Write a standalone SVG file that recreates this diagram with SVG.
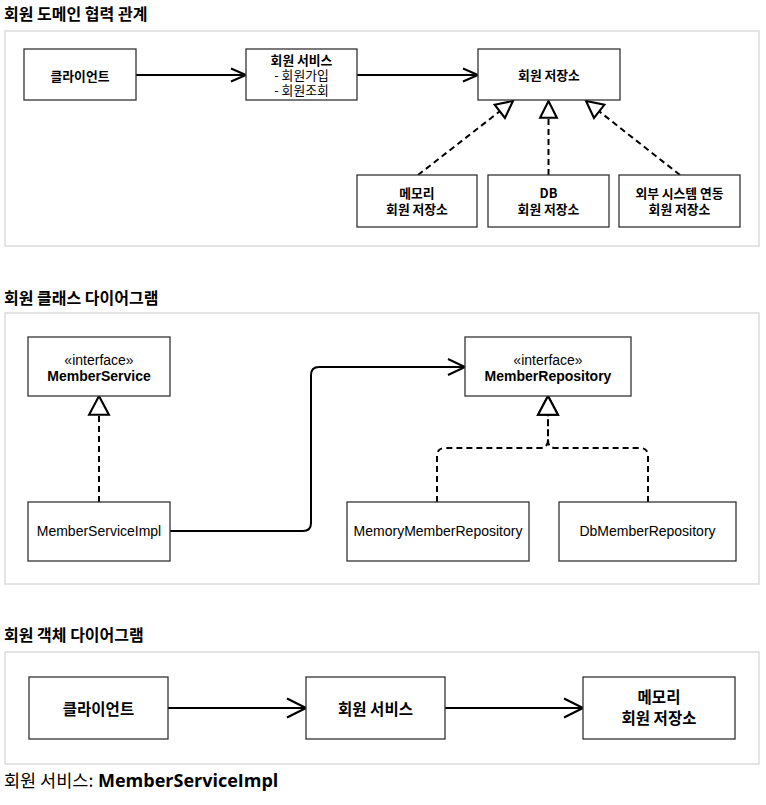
<svg xmlns="http://www.w3.org/2000/svg" width="766" height="805" viewBox="0 0 766 805">
<style>
.frame{fill:#fff;stroke:#dcdcdc;stroke-width:1.5}
.box{fill:#fff;stroke:#333;stroke-width:1.3}
.h{font-family:"Noto Sans CJK KR",sans-serif;font-weight:bold;font-size:16px;fill:#000}
.kb{font-family:"Noto Sans CJK KR",sans-serif;font-weight:bold;font-size:12.8px;fill:#000;text-anchor:middle}
.kn{font-family:"Noto Sans CJK KR",sans-serif;font-weight:normal;font-size:12.8px;fill:#000;text-anchor:middle}
.ln{font-family:"Liberation Sans",Arial,sans-serif;font-size:14px;fill:#000;text-anchor:middle}
.lb{font-family:"Liberation Sans",Arial,sans-serif;font-size:14px;font-weight:bold;fill:#000;text-anchor:middle}
.kL{font-family:"Noto Sans CJK KR",sans-serif;font-weight:bold;font-size:15.5px;fill:#000;text-anchor:middle}
.solid{fill:none;stroke:#000;stroke-width:2}
.dash{fill:none;stroke:#000;stroke-width:2;stroke-dasharray:6 4}
</style>
<defs>
<marker id="arrS" markerUnits="userSpaceOnUse" markerWidth="20" markerHeight="20" viewBox="-2 -2 20 18" refX="15" refY="6.5" orient="auto">
<path d="M0,0 L15,6.5 L0,13" fill="none" stroke="#000" stroke-width="2"/>
</marker>
<marker id="arrM" markerUnits="userSpaceOnUse" markerWidth="22" markerHeight="22" viewBox="-2 -2 22 20" refX="17" refY="8" orient="auto">
<path d="M0,0 L17,8 L0,16" fill="none" stroke="#000" stroke-width="2"/>
</marker>
<marker id="arrL" markerUnits="userSpaceOnUse" markerWidth="24" markerHeight="24" viewBox="-2 -2 24 23" refX="19" refY="9.5" orient="auto">
<path d="M0,0 L19,9.5 L0,19" fill="none" stroke="#000" stroke-width="2.2"/>
</marker>
<marker id="triS" markerUnits="userSpaceOnUse" markerWidth="22" markerHeight="22" viewBox="-2 -2 21 20" refX="16" refY="8" orient="auto">
<path d="M0,0 L16,8 L0,16 Z" fill="#fff" stroke="#000" stroke-width="2" stroke-dasharray="none"/>
</marker>
<marker id="triM" markerUnits="userSpaceOnUse" markerWidth="24" markerHeight="24" viewBox="-2 -2 23 23" refX="18" refY="9.5" orient="auto">
<path d="M0,0 L18,9.5 L0,19 Z" fill="#fff" stroke="#000" stroke-width="2" stroke-dasharray="none"/>
</marker>
</defs>
<rect width="766" height="805" fill="#fff"/>

<!-- Section 1 -->
<text class="h" x="4" y="20">회원 도메인 협력 관계</text>
<rect class="frame" x="5" y="31" width="754" height="215"/>

<g id="connectors1">
<line class="solid" x1="136" y1="75" x2="246" y2="75" marker-end="url(#arrS)"/>
<line class="solid" x1="357" y1="75" x2="478" y2="75" marker-end="url(#arrS)"/>
<line class="dash" x1="418" y1="175" x2="513" y2="101" marker-end="url(#triS)"/>
<line class="dash" x1="548.5" y1="175" x2="548.5" y2="101" marker-end="url(#triS)"/>
<line class="dash" x1="680" y1="175" x2="586" y2="101" marker-end="url(#triS)"/>
</g>

<g id="client1">
<rect class="box" x="24" y="49" width="112" height="51"/>
<text class="kb" x="80" y="80.5">클라이언트</text>
</g>
<g id="service1">
<rect class="box" x="246" y="49" width="111" height="51"/>
<text class="kb" x="301.5" y="64.5">회원 서비스</text>
<text class="kn" x="301.5" y="80">- 회원가입</text>
<text class="kn" x="301.5" y="95">- 회원조회</text>
</g>
<g id="repo1">
<rect class="box" x="478" y="49" width="142" height="51"/>
<text class="kb" x="549" y="80">회원 저장소</text>
</g>
<g id="memrepo1">
<rect class="box" x="357" y="175" width="120" height="52"/>
<text class="kb" x="417" y="198">메모리</text>
<text class="kb" x="417" y="213.5">회원 저장소</text>
</g>
<g id="dbrepo1">
<rect class="box" x="488" y="175" width="121" height="52"/>
<text class="kb" x="548.5" y="198">DB</text>
<text class="kb" x="548.5" y="213.5">회원 저장소</text>
</g>
<g id="extrepo1">
<rect class="box" x="619" y="175" width="121" height="52"/>
<text class="kb" x="679.5" y="198">외부 시스템 연동</text>
<text class="kb" x="679.5" y="213.5">회원 저장소</text>
</g>

<!-- Section 2 -->
<text class="h" x="4" y="304">회원 클래스 다이어그램</text>
<rect class="frame" x="5" y="313" width="754" height="271"/>

<g id="connectors2">
<line class="dash" x1="99" y1="502" x2="99" y2="396" marker-end="url(#triM)"/>
<path class="solid" d="M170,531 L303,531 Q311,531 311,523 L311,375 Q311,367 319,367 L465,367" marker-end="url(#arrM)"/>
<path class="dash" d="M437,502 L437,456 Q437,448 445,448 L540,448 Q548,448 548,440 L548,396" marker-end="url(#triM)"/>
<path class="dash" d="M648,502 L648,456 Q648,448 640,448 L556,448 Q548,448 548,440 L548,396" marker-end="url(#triM)"/>
</g>

<g id="MemberService">
<rect class="box" x="28" y="337" width="142" height="59"/>
<text class="ln" x="99" y="364.5">«interface»</text>
<text class="lb" x="99" y="380.5">MemberService</text>
</g>
<g id="MemberServiceImpl">
<rect class="box" x="28" y="502" width="142" height="59"/>
<text class="ln" x="99" y="536">MemberServiceImpl</text>
</g>
<g id="MemberRepository">
<rect class="box" x="465" y="337" width="166" height="59"/>
<text class="ln" x="548" y="364.5">«interface»</text>
<text class="lb" x="548" y="380.5">MemberRepository</text>
</g>
<g id="MemoryMemberRepository">
<rect class="box" x="347" y="502" width="182" height="59"/>
<text class="ln" x="438" y="536">MemoryMemberRepository</text>
</g>
<g id="DbMemberRepository">
<rect class="box" x="559" y="502" width="177" height="59"/>
<text class="ln" x="647.5" y="536">DbMemberRepository</text>
</g>

<!-- Section 3 -->
<text class="h" x="4" y="641">회원 객체 다이어그램</text>
<rect class="frame" x="5" y="652" width="754" height="112"/>

<g id="connectors3">
<line class="solid" x1="168" y1="708" x2="306" y2="708" marker-end="url(#arrL)"/>
<line class="solid" x1="445" y1="708" x2="583" y2="708" marker-end="url(#arrL)"/>
</g>

<g id="client3">
<rect class="box" x="29" y="677" width="139" height="62"/>
<text class="kL" x="98.5" y="715">클라이언트</text>
</g>
<g id="service3">
<rect class="box" x="306" y="677" width="139" height="62"/>
<text class="kL" x="375.5" y="715">회원 서비스</text>
</g>
<g id="memrepo3">
<rect class="box" x="583" y="677" width="152" height="62"/>
<text class="kL" x="659" y="703">메모리</text>
<text class="kL" x="659" y="724">회원 저장소</text>
</g>

<text x="4" y="787" font-family="Noto Sans CJK KR, sans-serif" font-size="17.5" fill="#000">회원 서비스: <tspan x="98" font-family="Open Sans, Noto Sans CJK KR, sans-serif" font-weight="bold" font-size="18">MemberServiceImpl</tspan></text>
</svg>
